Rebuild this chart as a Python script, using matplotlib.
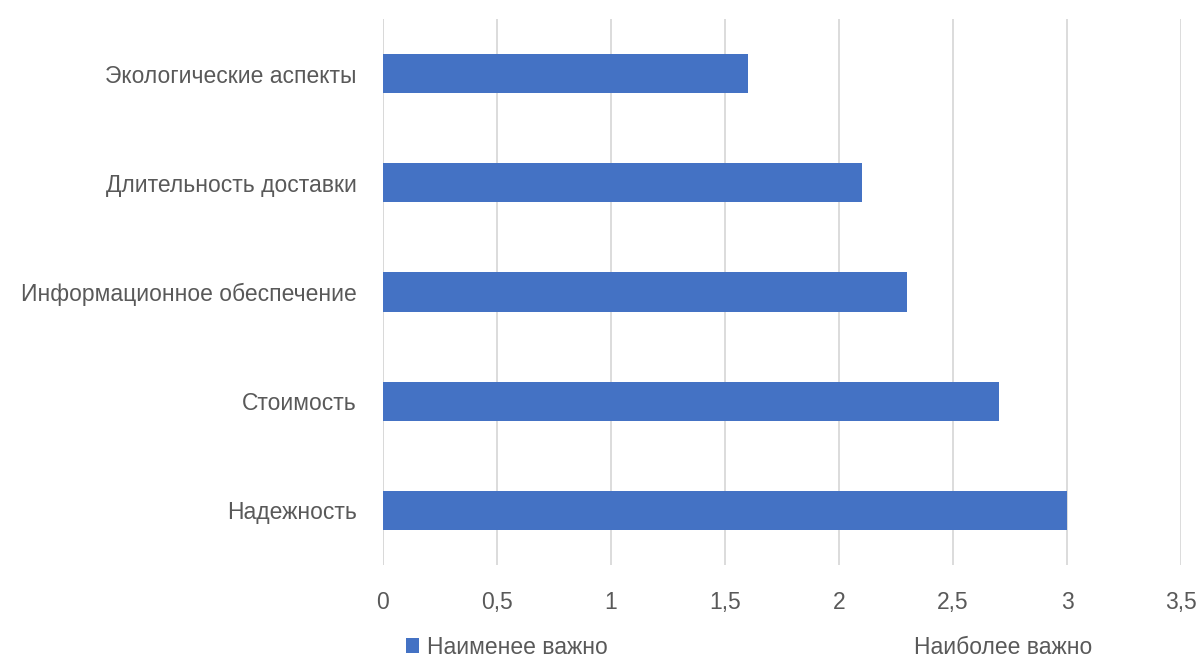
import matplotlib

matplotlib.use("Agg")
import matplotlib.pyplot as plt
from matplotlib.patches import Patch

categories = [
    "Надежность",
    "Стоимость",
    "Информационное обеспечение",
    "Длительность доставки",
    "Экологические аспекты",
]
values = [3.0, 2.7, 2.3, 2.1, 1.6]
xticks = [0, 0.5, 1, 1.5, 2, 2.5, 3, 3.5]
xtick_labels = ["0", "0,5", "1", "1,5", "2", "2,5", "3", "3,5"]
legend_labels = ["Наименее важно", "Наиболее важно"]

plt.rcParams.update({
    "font.family": ["Liberation Sans", "DejaVu Sans"],
    "font.size": 16.5,
    "text.color": "#595959",
    "xtick.color": "#595959",
    "ytick.color": "#595959",
})

bar_color = "#4472C4"
grid_color = "#D9D9D9"

fig = plt.figure(figsize=(11.99, 6.59), dpi=100)
ax = fig.add_axes([0.3194, 0.1426, 0.6656, 0.8286])

bars = ax.barh(range(len(categories)), values, height=0.36, color=bar_color, zorder=3)

ax.set_xlim(0, 3.5)
ax.set_ylim(-0.5, len(categories) - 0.5)
ax.set_xticks(xticks)
ax.set_xticklabels(xtick_labels)
ax.set_yticks(range(len(categories)))
ax.set_yticklabels(categories)
ax.tick_params(axis="both", length=0, labelsize=16.5)
ax.tick_params(axis="x", pad=19)
ax.tick_params(axis="y", pad=19)
ax.grid(True, axis="x", color=grid_color, lw=1.3, zorder=0)
ax.spines[:].set_visible(False)
ax.axvline(0, color=grid_color, lw=1.3, zorder=1)

handles = [bars, Patch(facecolor="none", edgecolor="none")]
fig.legend(
    handles, legend_labels, ncol=2, loc="center",
    bbox_to_anchor=(749 / 1199, 1 - 647 / 659),
    frameon=False, fontsize=16.5, handlelength=0.55, handleheight=0.6,
    handletextpad=0.35, columnspacing=12.45, borderpad=0.1,
)

fig.savefig("out.png", dpi=100)
